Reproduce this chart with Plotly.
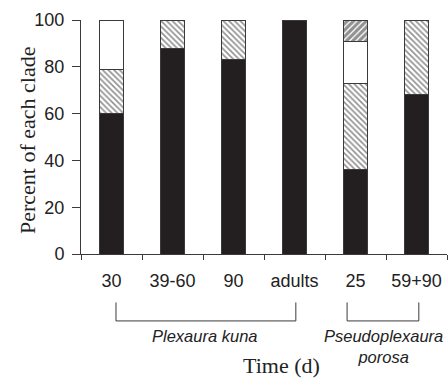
import plotly.graph_objects as go

categories = ["30", "39-60", "90", "adults", "25", "59+90"]
clade_black = [60, 88, 83, 100, 36, 68]
clade_hatch = [19, 12, 17, 0, 37, 32]
clade_white = [21, 0, 0, 0, 18, 0]
clade_dark = [0, 0, 0, 0, 9, 0]

INK = "#231f20"
LINE = "#3a3a3a"
SANS = "Arial, Liberation Sans, sans-serif"
SERIF = "Times New Roman, Liberation Serif, serif"

fig = go.Figure()
fig.add_trace(go.Bar(x=categories, y=clade_black, name="A",
                     marker=dict(color=INK, line=dict(color=LINE, width=1))))
fig.add_trace(go.Bar(x=categories, y=clade_hatch, name="B",
                     marker=dict(color="white", line=dict(color=LINE, width=1),
                                 pattern=dict(shape="\\", fgcolor=INK, bgcolor="white",
                                              size=4, solidity=0.4))))
fig.add_trace(go.Bar(x=categories, y=clade_white, name="C",
                     marker=dict(color="white", line=dict(color=LINE, width=1.2))))
fig.add_trace(go.Bar(x=categories, y=clade_dark, name="D",
                     marker=dict(color="white", line=dict(color=LINE, width=1),
                                 pattern=dict(shape="/", fgcolor=INK, bgcolor="white",
                                              size=4.5, solidity=0.7))))

fig.update_layout(
    width=448, height=380,
    margin=dict(l=81, r=1, t=20, b=126),
    barmode="stack", bargap=0.6,
    plot_bgcolor="white", paper_bgcolor="white",
    showlegend=False,
    font=dict(family=SANS, color="#222", size=18),
)
fig.update_xaxes(type="category", tickson="boundaries", ticks="outside", ticklen=5,
                 tickcolor=LINE, showline=True, linecolor=LINE, linewidth=1,
                 showgrid=False, tickfont=dict(size=18, family=SANS),
                 ticklabelstandoff=10)
fig.update_yaxes(range=[0, 100], dtick=20, ticks="outside", ticklen=8, tickcolor=LINE,
                 showline=True, linecolor=LINE, linewidth=1, showgrid=False,
                 zeroline=False, tickfont=dict(size=18, family=SANS),
                 ticklabelstandoff=4)

# brackets (paper coordinates)
def bracket(x0, x1):
    top, bot = -0.207, -0.286
    for (a, b, c, d) in [(x0, top, x0, bot), (x0, bot, x1, bot), (x1, bot, x1, top)]:
        fig.add_shape(type="line", xref="paper", yref="paper", x0=a, y0=b, x1=c, y1=d,
                      line=dict(color=LINE, width=1))

bracket(0.0956, 0.587)
bracket(0.727, 0.923)

ann = dict(xref="paper", yref="paper", showarrow=False, yanchor="middle", xanchor="center")
fig.add_annotation(text="<i>Plexaura kuna</i>", x=0.339, y=-0.351,
                   font=dict(size=16.5, family=SANS), **ann)
fig.add_annotation(text="<i>Pseudoplexaura</i><br><i>porosa</i>", x=0.826, y=-0.395,
                   font=dict(size=16.5, family=SANS), **ann)
fig.add_annotation(text="Time (d)", x=0.548, y=-0.5385, xref="paper", yref="paper",
                   showarrow=False, yanchor="bottom", xanchor="center",
                   font=dict(size=22, family=SERIF))
fig.add_annotation(text="Percent of each clade", x=-0.1475, y=0.487, textangle=-90,
                   font=dict(size=22, family=SERIF), **ann)

fig.write_html("out.html")
